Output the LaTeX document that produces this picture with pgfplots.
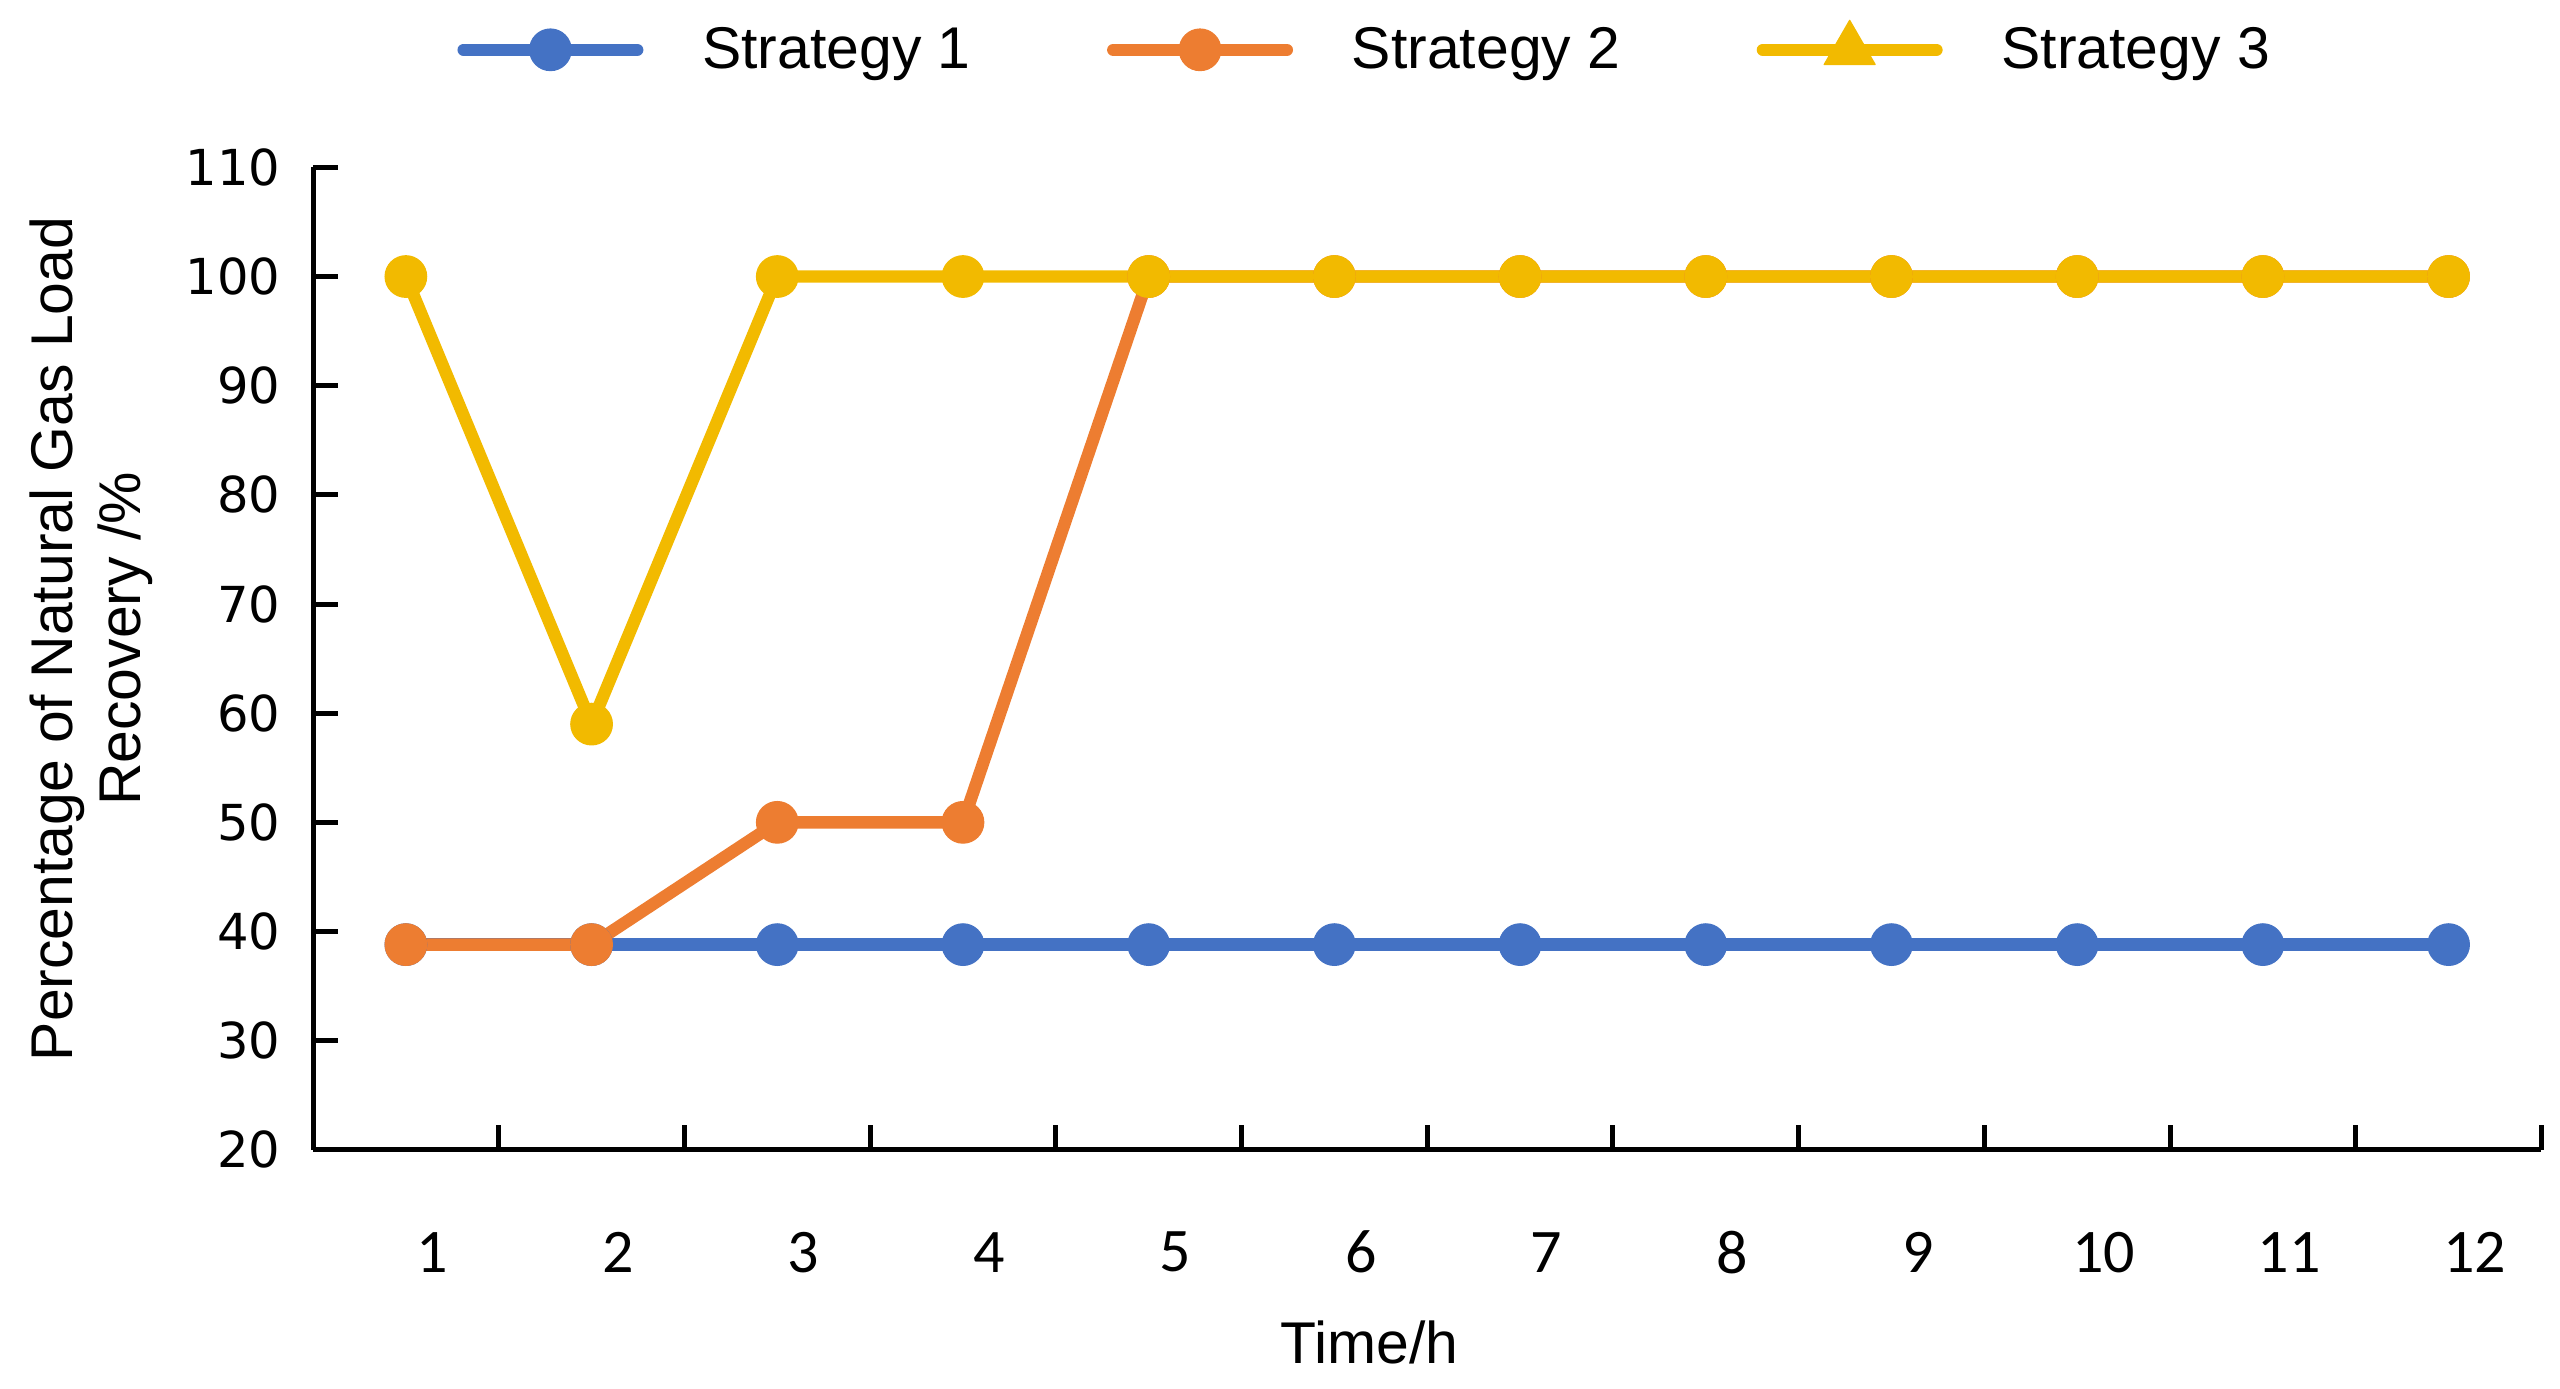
\documentclass[border=0pt]{standalone}
\usepackage{pgfplots}
\pgfplotsset{compat=1.18}
\usepackage{fontspec}
\setmainfont{Liberation Sans}
\newfontfamily\carlito{Carlito}
\newfontfamily\dejavu{DejaVu Sans}
\definecolor{sblue}{HTML}{4472C4}
\definecolor{sorange}{HTML}{ED7D31}
\definecolor{syellow}{HTML}{F2BA00}

\begin{document}
\begin{tikzpicture}
\useasboundingbox (0,0) rectangle (826pt,448pt);
\begin{axis}[
  at={(101pt,77pt)}, anchor=south west,
  scale only axis, width=719pt, height=317pt,
  xmin=0.5, xmax=12.5, ymin=20, ymax=110,
  clip=false,
  axis x line*=bottom, axis y line*=left,
  axis line style={line width=1.6pt, black},
  tick align=inside, major tick length=8pt,
  tick style={line width=1.6pt, black},
  xtick={1.5,2.5,...,12.5}, xticklabels={},
  extra x ticks={1,2,...,12},
  extra x tick labels={1,2,3,4,5,6,7,8,9,10,11,12},
  extra x tick style={major tick length=0pt},
  xticklabel style={font=\carlito\fontsize{20}{20}\selectfont, anchor=center, yshift=-33pt, xshift=8.5pt},
  ytick={20,30,...,110},
  /pgf/number format/assume math mode=true,
  yticklabel style={font=\dejavu\fontsize{16}{18}\selectfont, anchor=east, inner sep=0pt, xshift=-10.4pt},
  xlabel={Time/h},
  xlabel style={font=\fontsize{19}{22}\selectfont, at={(axis description cs:0.474,0)}, anchor=center, yshift=-62pt},
  ylabel={Percentage of Natural Gas Load\\Recovery /\%},
  ylabel style={font=\fontsize{19}{22}\selectfont, align=center, at={(axis description cs:-0.0994,0.52)}, anchor=center},
  legend columns=3,
  legend style={draw=none, fill=none, at={(axis description cs:0.4715,1.123)}, anchor=center,
    font=\fontsize{19}{22}\selectfont, nodes={inner sep=0pt},
    /tikz/every odd column/.append style={column sep=19pt},
    /tikz/every even column/.append style={column sep=44pt}},
  legend image code/.code={\draw[mark repeat=2, mark phase=2, line cap=round] plot coordinates {(0pt,0pt) (28pt,0pt) (56pt,0pt)};},
  every axis plot/.append style={line width=4pt, line cap=round, line join=round, mark=*, mark size=6.7pt, mark options={solid, line width=0.4pt}},
]
\addplot[color=sblue] coordinates {
  (1,38.8) (2,38.8) (3,38.8) (4,38.8) (5,38.8) (6,38.8)
  (7,38.8) (8,38.8) (9,38.8) (10,38.8) (11,38.8) (12,38.8)
};
\addlegendentry{Strategy 1}
\addplot[color=sorange] coordinates {
  (1,38.8) (2,38.8) (3,50) (4,50) (5,100) (6,100)
  (7,100) (8,100) (9,100) (10,100) (11,100) (12,100)
};
\addlegendentry{Strategy 2}
\addplot[color=syellow, legend image post style={mark=triangle*, mark size=9.5pt}] coordinates {
  (1,100) (2,59) (3,100) (4,100) (5,100) (6,100)
  (7,100) (8,100) (9,100) (10,100) (11,100) (12,100)
};
\addlegendentry{Strategy 3}
\end{axis}
\end{tikzpicture}
\end{document}
